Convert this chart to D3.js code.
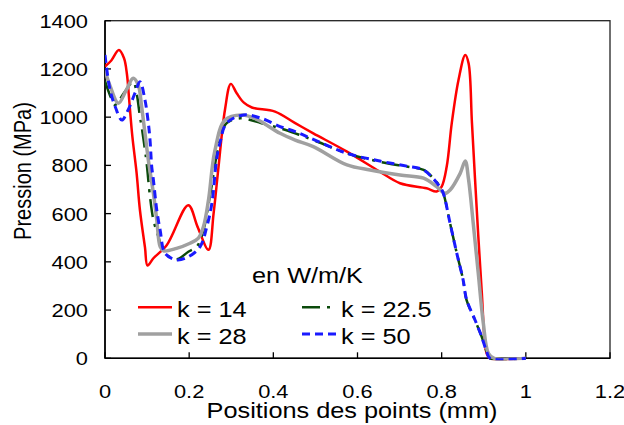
<!DOCTYPE html>
<html><head><meta charset="utf-8">
<script src="https://cdn.jsdelivr.net/npm/d3@7/dist/d3.min.js"></script>
<style>body{margin:0;background:#fff}svg{display:block}text{font-family:Arial,"Liberation Sans",sans-serif;fill:#000}</style>
</head><body><svg id="c" width="624" height="425"></svg>
<script>
const xTicks = [0, 0.2, 0.4, 0.6, 0.8, 1, 1.2];
const xTickLabels = ["0", "0.2", "0.4", "0.6", "0.8", "1", "1.2"];
const yTicks = [0, 200, 400, 600, 800, 1000, 1200, 1400];
const seriesNames = ["k = 14", "k = 22.5", "k = 28", "k = 50"];
const k14 = [[0,1210],[0.015,1235],[0.033,1278],[0.045,1245],[0.052,1180],[0.058,1060],[0.065,920],[0.075,770],[0.083,615],[0.095,460],[0.101,385],[0.115,415],[0.147,470],[0.198,635],[0.22,545],[0.246,450],[0.258,600],[0.269,781],[0.285,1030],[0.299,1138],[0.313,1099],[0.33,1060],[0.349,1040],[0.404,1023],[0.452,975],[0.495,933],[0.575,857],[0.653,774],[0.701,726],[0.764,705],[0.788,692],[0.8,712],[0.812,795],[0.824,975],[0.84,1154],[0.856,1258],[0.864,1223],[0.872,975],[0.883,629],[0.895,283],[0.907,20],[0.915,0],[1.0,0]];
const k225 = [[0,1150],[0.012,1090],[0.024,1051],[0.045,1100],[0.067,1147],[0.075,1100],[0.083,1002],[0.087,961],[0.095,864],[0.099,809],[0.107,670],[0.115,574],[0.127,504],[0.139,442],[0.17,411],[0.198,442],[0.218,463],[0.234,532],[0.25,680],[0.273,905],[0.289,975],[0.321,995],[0.372,975],[0.416,954],[0.452,933],[0.495,905],[0.575,850],[0.653,815],[0.717,795],[0.757,781],[0.78,747],[0.796,712],[0.804,684],[0.82,560],[0.836,435],[0.851,325],[0.859,242],[0.879,159],[0.895,90],[0.907,27],[0.915,0],[1.0,0]];
const k28 = [[0,1195],[0.012,1130],[0.032,1058],[0.05,1110],[0.067,1161],[0.079,1133],[0.087,1044],[0.095,933],[0.103,822],[0.115,684],[0.123,574],[0.131,463],[0.139,446],[0.17,456],[0.202,477],[0.222,498],[0.234,546],[0.246,657],[0.261,860],[0.285,988],[0.325,1009],[0.356,995],[0.416,933],[0.452,905],[0.495,878],[0.575,802],[0.63,781],[0.701,760],[0.757,747],[0.788,712],[0.808,684],[0.82,698],[0.844,767],[0.856,818],[0.864,740],[0.875,560],[0.887,352],[0.899,145],[0.911,21],[0.925,0],[1.0,0]];
const k50 = [[0,1258],[0.012,1113],[0.025,1040],[0.04,988],[0.055,1030],[0.071,1099],[0.083,1147],[0.095,1071],[0.103,975],[0.107,905],[0.111,795],[0.115,740],[0.123,615],[0.131,532],[0.143,435],[0.17,408],[0.198,421],[0.226,463],[0.242,546],[0.254,643],[0.265,822],[0.273,892],[0.289,975],[0.329,1009],[0.372,995],[0.416,961],[0.452,940],[0.495,908],[0.575,850],[0.653,818],[0.717,797],[0.757,781],[0.78,745],[0.796,710],[0.804,684],[0.82,560],[0.836,435],[0.851,325],[0.859,245],[0.879,160],[0.895,90],[0.907,27],[0.915,0],[1.0,0]];

const styles = [
  {color:"#ff0000", width:2.5, dash:null},
  {color:"#0b4a0b", width:2.5, dash:"18,7,3,7"},
  {color:"#a0a0a0", width:3.5, dash:null},
  {color:"#1a1aff", width:3, dash:"8,5"}
];
const data = [k14, k225, k28, k50];
const SX = 1.15;
const L = 105, R = 610, T = 20.7, B = 358.3;
const svg = d3.select("#c");
const x = d3.scaleLinear().domain([0, 1.2]).range([L, R]);
const y = d3.scaleLinear().domain([0, 1400]).range([B, T]);

// frame
svg.append("rect").attr("x", L).attr("y", T).attr("width", R - L).attr("height", B - T)
  .attr("fill", "none").attr("stroke", "#222").attr("stroke-width", 1.3);

// ticks
yTicks.forEach(v => {
  svg.append("line").attr("x1", L).attr("x2", L + 6).attr("y1", y(v)).attr("y2", y(v)).attr("stroke", "#000").attr("stroke-width", 1.3);
  svg.append("text").attr("transform", `translate(88,${y(v) + 7}) scale(${SX},1)`)
    .attr("text-anchor", "end").attr("font-size", 19).text(v);
});
xTicks.forEach((v, i) => {
  svg.append("line").attr("x1", x(v)).attr("x2", x(v)).attr("y1", B).attr("y2", B - 6).attr("stroke", "#000").attr("stroke-width", 1.3);
  svg.append("text").attr("transform", `translate(${x(v)},398) scale(${SX},1)`)
    .attr("text-anchor", "middle").attr("font-size", 19).text(xTickLabels[i]);
});
// axes
svg.append("line").attr("x1", L).attr("x2", L).attr("y1", T).attr("y2", B).attr("stroke", "#000").attr("stroke-width", 1.6);
svg.append("line").attr("x1", L).attr("x2", R).attr("y1", B).attr("y2", B).attr("stroke", "#000").attr("stroke-width", 1.6);

// titles
svg.append("text").attr("transform", `translate(352,418) scale(${SX},1)`)
  .attr("text-anchor", "middle").attr("font-size", 22).text("Positions des points (mm)");
svg.append("text").attr("transform", `translate(31,171) scale(${SX},1) rotate(-90)`)
  .attr("text-anchor", "middle").attr("font-size", 20).text("Pression (MPa)");

// lines
const line = d3.line().x(d => x(d[0])).y(d => y(d[1])).curve(d3.curveCatmullRom.alpha(0.5));
const clip = svg.append("clipPath").attr("id", "pc").append("rect").attr("x", L).attr("y", 0).attr("width", R - L).attr("height", B + 2);
data.forEach((d, i) => {
  const s = styles[i];
  svg.append("path").attr("d", line(d)).attr("fill", "none").attr("stroke", s.color)
    .attr("stroke-width", s.width).attr("stroke-dasharray", s.dash).attr("stroke-linejoin", "round")
    .attr("clip-path", "url(#pc)");
});

// legend
svg.append("text").attr("transform", `translate(252,283) scale(${SX},1)`).attr("font-size", 22).text("en W/m/K");
const legPos = [[138, 307.3], [302, 307.3], [138, 334], [302, 334]];
seriesNames.forEach((n, i) => {
  const s = styles[i], p = legPos[i];
  svg.append("line").attr("x1", p[0]).attr("x2", p[0] + 34).attr("y1", p[1]).attr("y2", p[1])
    .attr("stroke", s.color).attr("stroke-width", s.width).attr("stroke-dasharray", s.dash);
  svg.append("text").attr("transform", `translate(${p[0] + 39},${p[1] + 9.5}) scale(${SX},1)`)
    .attr("font-size", 22).text(n);
});
</script></body></html>
